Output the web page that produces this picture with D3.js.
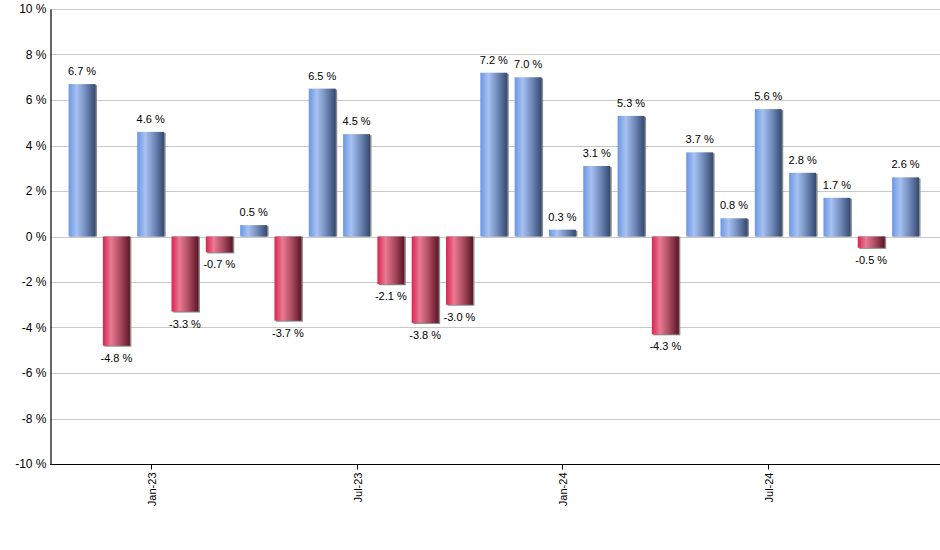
<!DOCTYPE html>
<html><head><meta charset="utf-8">
<script src="https://cdn.jsdelivr.net/npm/d3@7"></script>
<style>body{margin:0;background:#fff;} svg{display:block;font-family:Arial,"Liberation Sans",sans-serif;}</style>
</head><body>
<svg id="c" width="940" height="550"></svg>
<script>
const months = ["Nov-22","Dec-22","Jan-23","Feb-23","Mar-23","Apr-23","May-23","Jun-23","Jul-23","Aug-23","Sep-23","Oct-23","Nov-23","Dec-23","Jan-24","Feb-24","Mar-24","Apr-24","May-24","Jun-24","Jul-24","Aug-24","Sep-24","Oct-24","Nov-24"];
const values = [6.7,-4.8,4.6,-3.3,-0.7,0.5,-3.7,6.5,4.5,-2.1,-3.8,-3.0,7.2,7.0,0.3,3.1,5.3,-4.3,3.7,0.8,5.6,2.8,1.7,-0.5,2.6];
const xTickLabels = ["Jan-23","Jul-23","Jan-24","Jul-24"];
const yTicks = [-10,-8,-6,-4,-2,0,2,4,6,8,10];

const svg = d3.select("#c");
const mLeft = 50, mRight = 940, mTop = 9, mBottom = 464;
const x = d3.scaleBand().domain(months).range([64.9, 922.7]).paddingInner(0.215).paddingOuter(0.1075);
const y = d3.scaleLinear().domain([-10,10]).range([mBottom, mTop]);

const defs = svg.append("defs");
function grad(id, stops){
  const g = defs.append("linearGradient").attr("id", id).attr("x1","0%").attr("x2","100%").attr("y1","0%").attr("y2","0%");
  stops.forEach(s => g.append("stop").attr("offset", s[0]).attr("stop-color", s[1]));
}
grad("gpos", [["0%","#6d96e3"],["30%","#a6c2f2"],["65%","#6f88b8"],["100%","#33496f"]]);
grad("gneg", [["0%","#d92450"],["30%","#ea7a92"],["65%","#a84a60"],["100%","#5e1424"]]);

// gridlines
svg.append("g").selectAll("line").data(yTicks).join("line")
  .attr("x1", mLeft).attr("x2", mRight)
  .attr("y1", d => Math.round(y(d))+0.5).attr("y2", d => Math.round(y(d))+0.5)
  .attr("stroke", "#c8c8c8").attr("stroke-width", 1);

// y axis
const yAxis = d3.axisLeft(y).tickValues(yTicks).tickSize(0).tickPadding(4).tickFormat(d => d + " %");
const ya = svg.append("g").attr("transform", `translate(${mLeft+0.5},0)`).call(yAxis);
ya.select(".domain").attr("stroke", "#000").attr("stroke-width", 1.2);
ya.selectAll("text").attr("font-size", 12).attr("fill", "#000").attr("font-family", "Arial,'Liberation Sans',sans-serif");

// bars with shadow
const bars = svg.append("g");
bars.selectAll("rect.sh").data(values).join("rect").attr("class","sh")
  .attr("x", (d,i) => x(months[i]) + 1.5)
  .attr("y", d => d >= 0 ? y(d) + 1 : y(0))
  .attr("width", x.bandwidth())
  .attr("height", d => Math.abs(y(d) - y(0)) + (d >= 0 ? -1 : 1))
  .attr("fill", "#8a8a8a");
bars.selectAll("rect.b").data(values).join("rect").attr("class","b")
  .attr("x", (d,i) => x(months[i]))
  .attr("y", d => d >= 0 ? y(d) : y(0))
  .attr("width", x.bandwidth())
  .attr("height", d => Math.abs(y(d) - y(0)))
  .attr("fill", d => d >= 0 ? "url(#gpos)" : "url(#gneg)");

// value labels
svg.append("g").selectAll("text").data(values).join("text")
  .attr("x", (d,i) => x(months[i]) + x.bandwidth()/2)
  .attr("y", d => d >= 0 ? y(d) - 9 : y(d) + 16)
  .attr("text-anchor", "middle")
  .attr("font-size", 11).attr("fill", "#000")
  .text(d => d.toFixed(1) + " %");

// x axis
const xa = svg.append("g").attr("transform", `translate(0,${mBottom+0.5})`);
xa.append("line").attr("x1", mLeft).attr("x2", mRight).attr("stroke", "#000").attr("stroke-width", 1.2);
const tickG = xa.selectAll("g.t").data(xTickLabels).join("g").attr("class","t")
  .attr("transform", d => `translate(${Math.round(x(d) + x.bandwidth()/2)+0.5},0)`);
tickG.append("line").attr("y1", 0).attr("y2", 5).attr("stroke", "#000");
tickG.append("text").attr("transform", "rotate(-90)").attr("x", -8).attr("y", 4)
  .attr("text-anchor", "end").attr("font-size", 11).attr("fill", "#000").text(d => d);
</script>
</body></html>
